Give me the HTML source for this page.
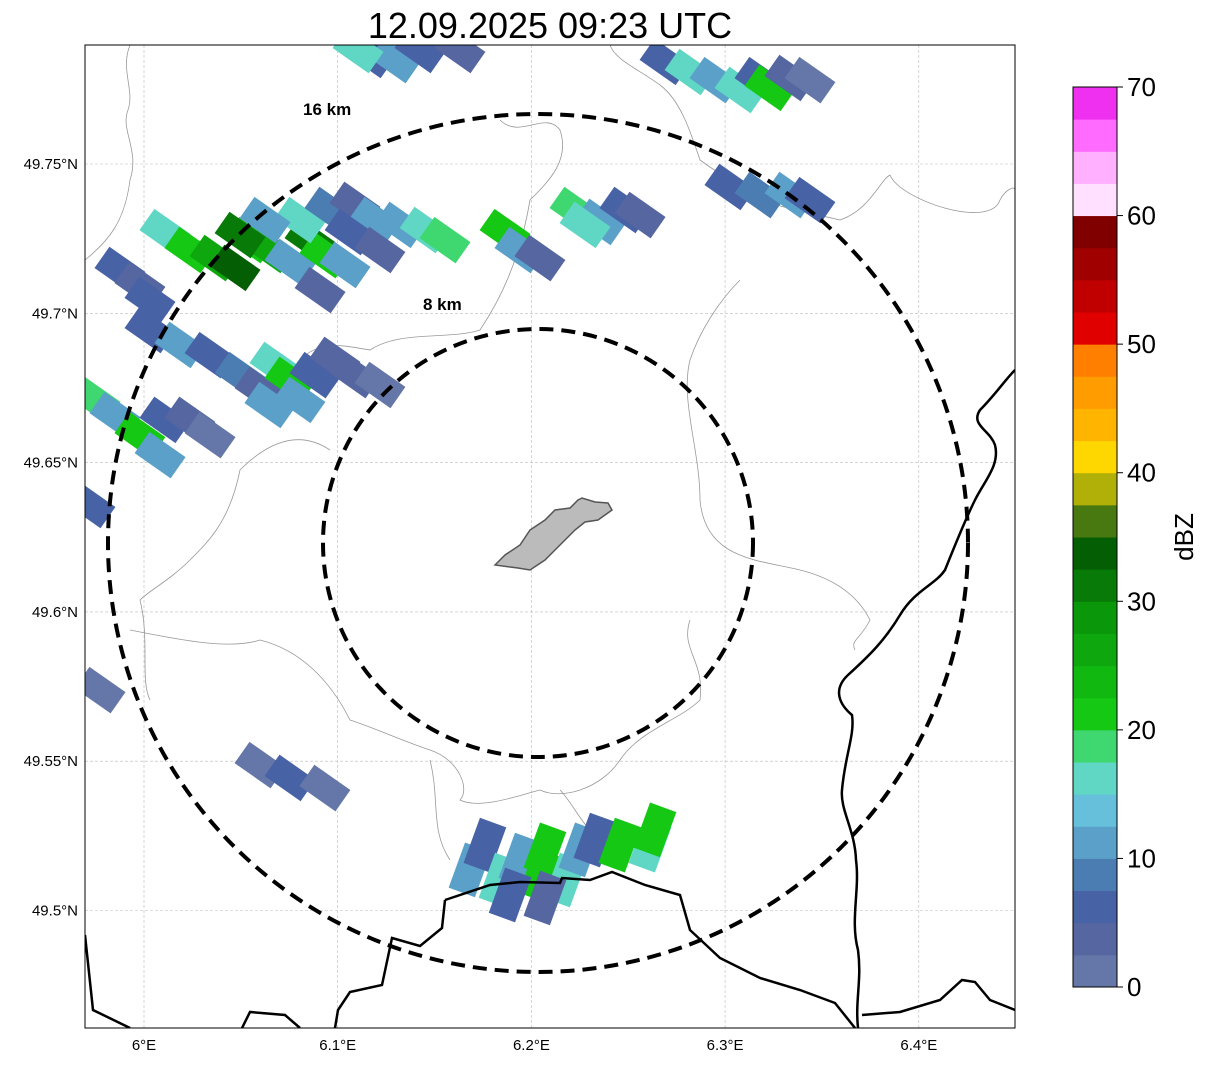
<!DOCTYPE html>
<html><head><meta charset="utf-8">
<style>
body{margin:0;background:#fff;font-family:"Liberation Sans",sans-serif;}
svg text{font-family:"Liberation Sans",sans-serif;}
</style></head>
<body>
<svg id="chart" width="1207" height="1064" viewBox="0 0 1207 1064" xmlns="http://www.w3.org/2000/svg">
<text x="550" y="38" font-size="36" text-anchor="middle">12.09.2025 09:23 UTC</text>
<defs><clipPath id="mapclip"><rect x="85" y="45" width="930" height="983"/></clipPath></defs>
<g id="grid"></g>
<g id="admin" clip-path="url(#mapclip)" fill="none" stroke="#999" stroke-width="0.8">
<path d="M130,45 C120,70 135,90 128,110 C120,130 140,150 130,180 C125,220 110,240 85,260"/>
<path d="M610,45 C615,60 640,70 660,85 C680,100 690,130 700,160 C720,175 740,185 760,200 C790,210 820,215 840,220 C870,210 880,180 890,175 C900,200 990,230 1000,200 C1005,190 1015,185 1015,190"/>
<path d="M500,120 C520,140 545,110 560,130 C570,160 550,180 530,200 C520,260 500,300 480,330 C450,340 400,330 370,350 C340,345 320,340 300,360"/>
<path d="M330,450 C300,430 270,440 240,470 C230,520 210,540 190,560 C170,580 150,590 140,600 C150,640 140,680 150,700"/>
<path d="M740,280 C720,300 700,330 690,360 C680,400 700,450 700,500 C705,560 760,560 800,570 C840,580 860,600 870,620 C860,640 850,640 855,650"/>
<path d="M130,630 C180,640 230,650 260,640 C300,650 330,680 350,720 C380,730 400,740 430,750 C460,760 470,790 460,800 C480,810 520,795 540,790 C560,800 600,790 620,760 C640,730 680,720 700,700 C705,660 680,650 690,620"/>
<path d="M430,760 C440,800 430,830 450,860"/>
<path d="M560,790 C570,800 580,820 590,830"/>
</g>
<g id="cells" clip-path="url(#mapclip)"></g>
<g id="borders" clip-path="url(#mapclip)" fill="none" stroke="#000" stroke-width="2.5">
<path d="M1015,370 C1005,380 995,395 980,410 C970,425 990,430 995,445 C1000,465 985,480 975,500 C965,520 955,545 945,570 C935,585 915,590 900,615 C885,640 870,655 848,675 C832,690 840,705 852,715 C855,735 845,755 842,790 C840,810 855,830 856,860 C860,890 850,920 858,950 C862,980 855,1000 858,1028"/>
<path d="M445,900 L490,885 L520,882 L560,883 L562,878 L590,880 L612,872 L645,885 L680,895 L690,930 L720,958 L760,978 L800,990 L835,1003 L855,1028"/>
<path d="M445,900 L442,928 L420,946 L392,938 L382,985 L350,992 L338,1010 L335,1028"/>
<path d="M85,935 L93,1010 L130,1028"/>
<path d="M242,1028 L250,1012 L285,1015 L300,1028"/>
<path d="M862,1015 L900,1012 L940,1000 L962,980 L975,982 L990,1000 L1015,1010"/>
</g>
<path d="M495,565 L505,555 L520,545 L530,530 L545,520 L555,510 L570,508 L578,500 L582,498 L595,502 L608,503 L612,510 L598,520 L585,522 L575,530 L565,540 L555,550 L545,560 L530,570 L518,568 Z" fill="#bbb" stroke="#555" stroke-width="1.5"/>
<g fill="none" stroke="#000" stroke-width="4" stroke-dasharray="14,8">
<ellipse cx="538" cy="543" rx="215" ry="214"/>
<ellipse cx="538" cy="543" rx="430" ry="429"/>
</g>
<text x="303" y="115" font-size="17" font-weight="bold">16 km</text>
<text x="423" y="310" font-size="17" font-weight="bold">8 km</text>
<rect x="85" y="45" width="930" height="983" fill="none" stroke="#000" stroke-width="1"/>
<g id="axes" font-size="15"></g>
<g id="cbar"></g>
<text transform="translate(1193,537) rotate(-90)" font-size="26" text-anchor="middle">dBZ</text>
</svg>
<script>
const lonTicks=[6.0,6.1,6.2,6.3,6.4];
const lonLabels=["6°E","6.1°E","6.2°E","6.3°E","6.4°E"];
const latTicks=[49.75,49.7,49.65,49.6,49.55,49.5];
const latLabels=["49.75°N","49.7°N","49.65°N","49.6°N","49.55°N","49.5°N"];
const cbTicks=[0,10,20,30,40,50,60,70];
const cbColors=["#6577a8","#5566a0","#4862a6","#4b7cb2","#5aa0c8","#66c0dc","#60d6c4","#3fd870","#14c814","#10b810","#0ea80e","#0a980a","#077a07","#045f04","#487810","#b0b008","#ffd700","#ffb400","#ff9c00","#ff8000","#e00000","#c00000","#a00000","#800000","#ffe0ff","#ffb0ff","#ff6aff","#f030f0"];
const cellPx=[[370,55,5],[395,60,12],[358,50,15],[420,50,5],[460,50,3],
[665,62,5],[690,72,17],[715,80,12],[740,90,15],[760,80,5],[770,88,20],[790,78,3],[810,80,2],
[730,187,5],[760,195,8],[790,195,12],[810,200,5],
[575,210,18],[600,222,12],[625,210,5],[640,215,3],[585,225,15],
[505,232,20],[520,250,12],[540,258,3],
[165,232,15],[190,250,22],[215,258,25],[235,268,33],[250,240,22],[270,250,25],[290,262,12],[310,240,32],[325,255,20],[345,265,10],[300,220,15],[330,210,8],[355,205,3],[375,220,10],[400,225,12],[425,230,15],[445,240,18],[350,232,5],[380,250,3],[320,290,3],[265,220,10],[240,235,30],
[120,270,5],[140,285,3],[150,300,5],
[150,330,5],[180,345,12],[210,355,5],[240,375,8],[260,390,3],[275,365,15],[290,380,22],[300,400,10],[315,375,5],[335,360,3],[355,375,3],[380,385,2],[270,405,12],
[95,400,18],[115,415,12],[140,435,20],[165,420,5],[190,420,3],[210,435,2],[160,455,10],
[90,505,5],[100,690,2],
[260,765,2],[290,778,5],[325,788,2],
[470,870,10],[485,845,5],[500,880,15],[520,860,12],[540,875,22],[545,850,20],[565,880,15],[580,850,12],[595,840,5],[620,845,22],[650,845,17],[655,830,22],[510,895,5],[545,898,3]];
const cellLon=[];const cellLat=[];const cellDbz=[];
cellPx.forEach(c=>{cellLon.push(+(6+(c[0]-144)/1937).toFixed(4));cellLat.push(+(49.75-(c[1]-164)/2986).toFixed(4));cellDbz.push(c[2]);});

const X=lon=>144+(lon-6)*1937;
const Y=lat=>164-(lat-49.75)*2986;
const CB=v=>987-v*900/70;
const NS="http://www.w3.org/2000/svg";
function mk(t,a,p){const e=document.createElementNS(NS,t);for(const k in a)e.setAttribute(k,a[k]);p.appendChild(e);return e;}
const grid=document.getElementById('grid'),axes=document.getElementById('axes');
lonTicks.forEach((v,i)=>{const x=X(v);
 const l=mk('line',{x1:x,x2:x,y1:45,y2:1028,stroke:'#bbb','stroke-width':0.6,'stroke-dasharray':'3,2'},grid);
 
 const t=mk('text',{x:x,y:1050,'text-anchor':'middle'},axes);t.textContent=lonLabels[i];
 });
latTicks.forEach((v,i)=>{const y=Y(v);
 const l=mk('line',{x1:85,x2:1015,y1:y,y2:y,stroke:'#bbb','stroke-width':0.6,'stroke-dasharray':'3,2'},grid);
 
 const t=mk('text',{x:78,y:y+5,'text-anchor':'end'},axes);t.textContent=latLabels[i];
 });
const cells=document.getElementById('cells');
function col(v){return cbColors[Math.min(cbColors.length-1,Math.max(0,Math.floor(v/2.5)))];}
for(let i=0;i<cellLon.length;i++){
 const x=X(cellLon[i]),y=Y(cellLat[i]);
 const bottom=y>800;
 const w=bottom?28:44,h=bottom?48:26,ang=bottom?20:35;
 const r=mk('rect',{x:x-w/2,y:y-h/2,width:w,height:h,fill:col(cellDbz[i]),transform:`rotate(${ang},${x},${y})`},cells);
 
 
}
const cb=document.getElementById('cbar');
for(let i=0;i<28;i++){
 const y1=CB((i+1)*2.5),y0=CB(i*2.5);
 const r=mk('rect',{x:1073,y:y1,width:44,height:y0-y1+0.5,fill:cbColors[i]},cb);
 
}
mk('rect',{x:1073,y:87,width:44,height:900,fill:'none',stroke:'#000','stroke-width':1},cb);
cbTicks.forEach(v=>{const y=CB(v);
 mk('line',{x1:1117,x2:1123,y1:y,y2:y,stroke:'#000'},cb);
 const t=mk('text',{x:1127,y:y+9,'font-size':26},cb);t.textContent=v;
 });
</script>
</body></html>
